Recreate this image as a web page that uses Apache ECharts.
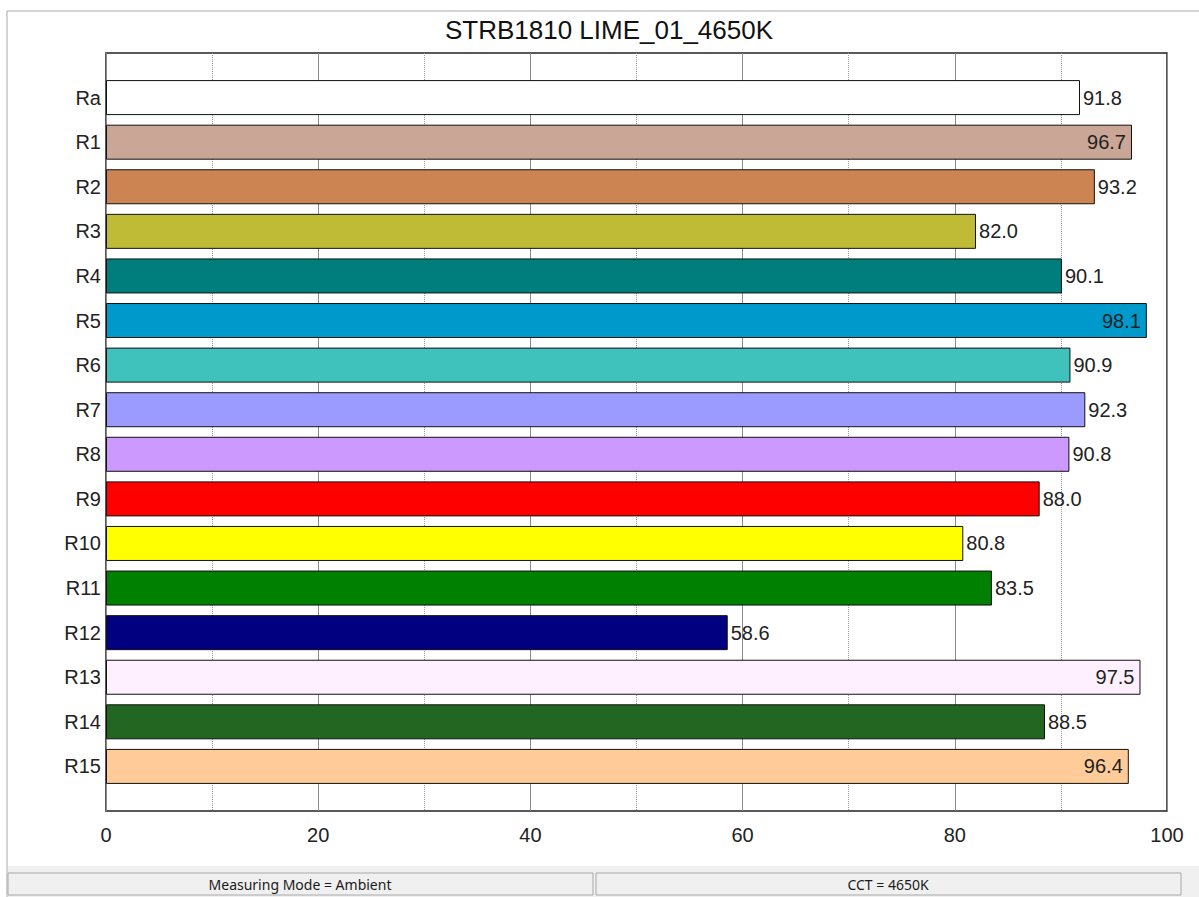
<!DOCTYPE html>
<html>
<head>
<meta charset="utf-8">
<script src="https://cdn.jsdelivr.net/npm/echarts@6/dist/echarts.min.js"></script>
<style>
html,body{margin:0;padding:0;background:#fff;}
#chart{width:1199px;height:897px;}
</style>
</head>
<body>
<div id="chart"></div>
<script>
const title = 'STRB1810 LIME_01_4650K';
const categories = ['Ra','R1','R2','R3','R4','R5','R6','R7','R8','R9','R10','R11','R12','R13','R14','R15'];
const values = [91.8, 96.7, 93.2, 82.0, 90.1, 98.1, 90.9, 92.3, 90.8, 88.0, 80.8, 83.5, 58.6, 97.5, 88.5, 96.4];
const colors = ['#FFFFFF','#C9A695','#CC8452','#BFBB36','#007D7D','#0099CC','#40C2BC','#9B9BFF','#CC99FF','#FF0000','#FFFF00','#008000','#000080','#FFF0FF','#226622','#FFCC99'];
const xTicks = [0, 20, 40, 60, 80, 100];
const statusLeft = 'Measuring Mode = Ambient';
const statusRight = 'CCT = 4650K';

const axisCats = [''].concat(categories, ['']);
const barData = [null].concat(values.map(function (v, i) {
  const inside = v >= 95;
  return {
    value: v,
    itemStyle: { color: colors[i] },
    label: { position: inside ? 'insideRight' : 'right', distance: inside ? 6 : 3 }
  };
}), [null]);

const chart = echarts.init(document.getElementById('chart'), null, { renderer: 'svg' });
chart.setOption({
  animation: false,
  backgroundColor: '#fff',
  title: {
    text: title,
    left: 604,
    textAlign: 'center',
    top: 12,
    textStyle: { fontFamily: 'Liberation Sans, Arial, sans-serif', fontSize: 26, fontWeight: 'normal', color: '#111' }
  },
  grid: {
    left: 106, top: 53, right: 32, bottom: 86,
    show: true, borderColor: '#222', borderWidth: 1.5, backgroundColor: 'transparent'
  },
  xAxis: {
    type: 'value', min: 0, max: 100, interval: 20,
    axisLine: { show: false }, axisTick: { show: false },
    axisLabel: {
      margin: 14, fontSize: 20, color: '#222', fontFamily: 'Liberation Sans, Arial, sans-serif',
      formatter: function (v) { return xTicks.indexOf(v) >= 0 ? String(v) : ''; }
    },
    splitLine: { show: true, lineStyle: { color: '#8a8a8a', width: 1 } },
    minorTick: { show: false, splitNumber: 2 },
    minorSplitLine: { show: true, lineStyle: { color: '#9a9a9a', type: 'dotted', width: 1 } }
  },
  yAxis: {
    type: 'category', data: axisCats, inverse: true, boundaryGap: false,
    axisLine: { show: false }, axisTick: { show: false }, splitLine: { show: false },
    axisLabel: { margin: 5, fontSize: 20, color: '#222', fontFamily: 'Liberation Sans, Arial, sans-serif', interval: 0 }
  },
  series: [{
    type: 'bar',
    data: barData,
    barWidth: 35,
    itemStyle: { borderColor: '#111', borderWidth: 1 },
    label: {
      show: true, fontSize: 20, color: '#222', fontFamily: 'Liberation Sans, Arial, sans-serif',
      formatter: function (p) { return p.value.toFixed(1); }
    }
  }],
  graphic: [
    { type: 'line', shape: { x1: 7, y1: 11, x2: 1199, y2: 11 }, style: { stroke: '#a8a8a8', lineWidth: 1 }, silent: true },
    { type: 'line', shape: { x1: 7, y1: 11, x2: 7, y2: 897 }, style: { stroke: '#a8a8a8', lineWidth: 1 }, silent: true },
    { type: 'rect', shape: { x: 8, y: 866, width: 1191, height: 31 }, style: { fill: '#F0F0F0' }, silent: true },
    { type: 'rect', shape: { x: 8, y: 873, width: 585, height: 22 }, style: { fill: '#F0F0F0', stroke: '#a8a8a8', lineWidth: 1 }, silent: true },
    { type: 'rect', shape: { x: 596, y: 873, width: 585, height: 22 }, style: { fill: '#F0F0F0', stroke: '#a8a8a8', lineWidth: 1 }, silent: true },
    { type: 'text', x: 300, y: 884, style: { text: statusLeft, fill: '#1a1a1a', font: '14px "Noto Sans", "Open Sans", sans-serif', textAlign: 'center', textVerticalAlign: 'middle' }, silent: true },
    { type: 'text', x: 888, y: 884, style: { text: statusRight, fill: '#1a1a1a', font: '14px "Noto Sans", "Open Sans", sans-serif', textAlign: 'center', textVerticalAlign: 'middle' }, silent: true }
  ]
});
</script>
</body>
</html>
